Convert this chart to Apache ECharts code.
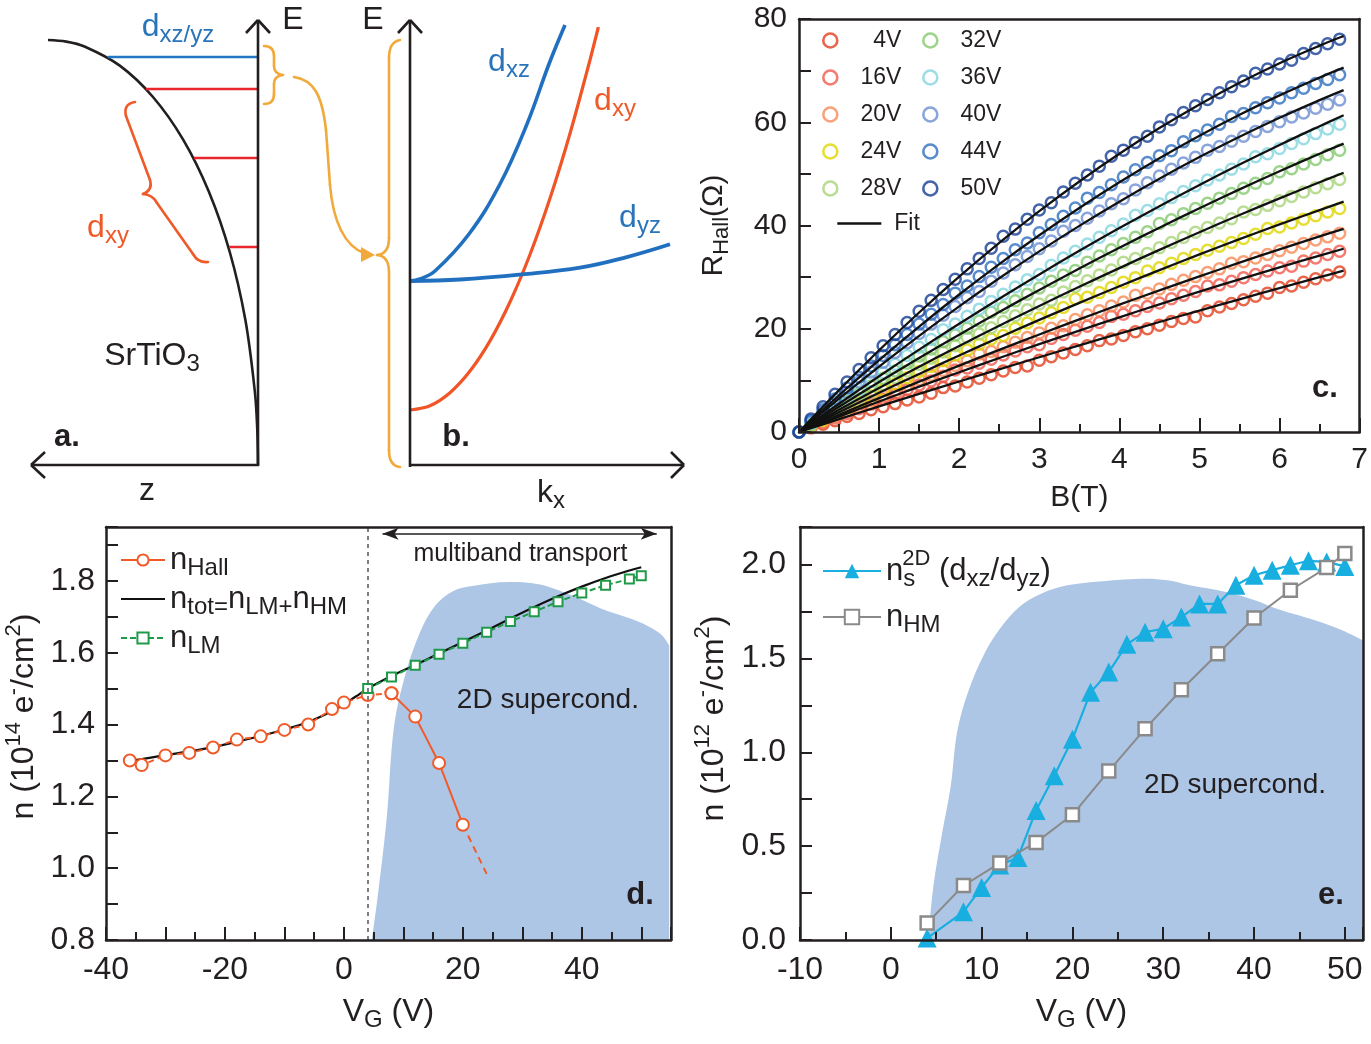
<!DOCTYPE html>
<html>
<head>
<meta charset="utf-8">
<script src="https://cdn.jsdelivr.net/npm/echarts@6/dist/echarts.min.js"></script>
<style>
html,body{margin:0;padding:0;background:#ffffff;}
#chart{width:1371px;height:1044px;}
</style>
</head>
<body>
<div id="chart"></div>
<script>
// ================= DATA =================
// (a) schematic: confining well E(z) and sub-band levels (arbitrary units)
const wellZ = [210, 191.7, 173.5, 138.2, 105, 75, 49.1, 28.1, 12.7, 3.2, 0.8, 0];
const wellE = [425, 423.4, 418.5, 399.4, 368, 325.6, 273.2, 212.5, 145.4, 73.8, 37, 0];
const levelE = [408, 376, 307, 218];
const levelZ = [150, 112, 64, 29];
// (b) schematic band dispersions E(kx) (arbitrary units)
const dxzK = [0, 10, 25, 59, 90, 117, 139, 155];
const dxzE = [184, 186, 194, 231, 281, 341, 401, 440];
const dyzK = [0, 50, 112, 170, 215, 260];
const dyzE = [184, 185.5, 190.6, 197.3, 207.4, 220.7];
const dxyK = [0, 20, 40, 60, 80, 100, 120, 140, 160, 180, 188.4];
const dxyE = [55, 59.3, 72.3, 93.9, 124.1, 163, 210.5, 266.7, 331.5, 405, 438];

// (c) Hall resistance vs field
const cVolt = ['4V','16V','20V','24V','28V','32V','36V','40V','44V','50V'];
const cB = [0,0.15,0.3,0.45,0.6,0.75,0.9,1.05,1.2,1.35,1.5,1.65,1.8,1.95,2.1,2.25,2.4,2.55,2.7,2.85,3,3.15,3.3,3.45,3.6,3.75,3.9,4.05,4.2,4.35,4.5,4.65,4.8,4.95,5.1,5.25,5.4,5.55,5.7,5.85,6,6.15,6.3,6.45,6.6,6.75];
const cR4  = [0,0.8,1.5,2.2,3.0,3.6,4.3,4.9,5.5,6.2,6.8,7.5,8.6,8.9,9.7,10.4,11.1,11.8,12.5,12.8,13.9,14.6,15.3,16.0,16.7,17.7,18.0,18.7,19.4,20.0,20.7,21.4,22.0,22.3,23.5,24.2,24.9,25.6,26.3,26.9,28.0,28.3,29.0,29.7,30.4,31.0];
const cR16 = [0,0.9,1.8,2.7,3.6,4.5,5.4,6.4,7.3,8.2,9.1,9.9,10.8,12.0,12.4,13.3,14.1,14.9,15.7,16.5,16.9,18.1,18.9,19.7,20.5,21.2,22.4,22.8,23.5,24.3,25.0,25.8,26.5,27.2,28.3,28.5,29.2,29.9,30.5,31.2,31.8,32.1,33.1,33.7,34.4,35.0];
const cR20 = [0,1.0,2.0,3.0,4.0,5.0,6.0,7.0,8.1,9.1,10.1,11.0,11.9,12.9,13.8,15.1,15.6,16.5,17.4,18.3,19.2,20.1,20.6,21.8,22.7,23.5,24.4,25.2,26.5,26.9,27.7,28.6,29.4,30.1,30.9,31.6,32.7,33.0,33.7,34.4,35.1,35.8,36.5,37.2,37.8,38.5];
const cR24 = [0,1.2,2.3,3.5,4.6,5.8,7.0,8.2,9.3,10.5,11.7,12.7,13.8,14.9,15.9,17.0,18.0,18.7,20.1,21.1,22.1,23.1,24.1,25.8,26.1,27.0,28.0,29.0,29.9,31.2,31.8,32.7,33.6,34.4,35.2,36.0,36.7,37.5,38.3,39.4,39.7,40.5,41.2,41.9,42.6,43.3];
const cR28 = [0,1.3,2.6,3.9,5.2,6.5,7.8,9.2,10.5,11.8,13.1,14.3,15.5,16.7,18.3,19.0,20.2,21.4,22.5,23.7,24.8,25.5,27.1,28.2,29.3,30.4,31.4,32.9,33.6,34.6,35.7,36.7,37.7,38.7,39.6,40.5,41.3,42.6,43.1,43.9,44.8,45.6,46.5,47.3,48.1,48.9];
const cR32 = [0,1.5,3.0,4.4,5.9,7.4,8.9,10.4,11.8,13.3,14.7,16.1,17.5,18.8,20.1,21.5,23.2,24.1,25.4,26.7,27.9,29.2,30.4,31.3,32.9,34.1,35.3,36.5,37.7,38.8,40.4,41.1,42.3,43.3,44.3,45.3,46.2,47.2,48.2,49.1,50.4,51.0,51.9,52.8,53.7,54.6];
const cR36 = [0,1.7,3.3,4.9,6.5,8.2,9.9,11.5,13.1,14.8,16.4,17.9,19.8,20.9,22.4,23.8,25.3,26.7,28.1,29.5,30.5,32.3,33.7,35.0,36.4,37.7,39.0,40.3,42.0,42.9,44.2,45.4,46.6,47.7,48.8,49.8,50.9,51.9,53.3,53.9,54.9,55.9,56.8,57.8,58.7,59.6];
const cR40 = [0,2.0,3.9,5.8,7.7,9.7,11.6,13.5,15.4,17.3,19.1,20.9,22.6,24.3,26.0,27.2,29.2,30.8,32.4,34.0,35.5,37.0,38.9,40.0,41.4,42.8,44.2,45.2,46.9,48.3,49.6,50.9,52.1,53.2,54.6,55.3,56.3,57.3,58.2,59.2,60.1,61.0,61.8,62.7,63.5,64.3];
const cR44 = [0,2.2,4.3,6.4,8.5,10.6,12.8,14.8,16.9,18.9,20.9,22.8,24.7,26.9,28.3,30.1,31.9,33.6,35.3,36.6,38.6,40.2,41.8,43.4,45.3,46.4,47.9,49.4,50.8,52.2,53.5,54.5,56.2,57.4,58.5,59.6,61.1,61.7,62.8,63.8,64.7,65.7,66.6,67.5,68.3,69.2];
const cR50 = [0,2.5,4.9,7.3,9.7,12.1,14.4,16.7,18.9,21.2,23.4,25.5,27.6,29.6,31.6,33.6,35.6,37.9,39.3,41.2,43.0,44.4,46.5,48.2,49.8,51.5,53.4,54.6,56.1,57.3,59.1,60.5,61.9,63.2,64.4,65.7,66.9,68.0,69.5,70.3,71.3,72.0,73.3,74.3,75.2,76.1];
const cFitB = [0,0.5,1,1.5,2,2.5,3,3.5,4,4.5,5,5.5,6,6.5,6.8];
const cFit4  = [0,2.49,4.95,7.38,9.78,12.14,14.48,16.79,19.06,21.31,23.53,25.71,27.86,29.99,31.25];
const cFit16 = [0,2.99,5.91,8.78,11.58,14.33,17.02,19.65,22.22,24.73,27.18,29.57,31.90,34.17,35.50];
const cFit20 = [0,3.32,6.57,9.75,12.86,15.91,18.89,21.81,24.66,27.44,30.15,32.80,35.38,37.89,39.36];
const cFit24 = [0,3.84,7.59,11.25,14.83,18.31,21.71,25.01,28.23,31.36,34.40,37.35,40.21,42.98,44.61];
const cFit28 = [0,4.32,8.53,12.65,16.67,20.59,24.41,28.13,31.75,35.28,38.70,42.03,45.25,48.38,50.21];
const cFit32 = [0,4.90,9.68,14.33,18.85,23.25,27.52,31.67,35.69,39.58,43.35,46.99,50.51,53.90,55.87];
const cFit36 = [0,5.47,10.79,15.95,20.96,25.83,30.53,35.09,39.50,43.75,47.85,51.80,55.60,59.24,61.36];
const cFit40 = [0,6.46,12.67,18.63,24.34,29.79,34.99,39.93,44.62,49.06,53.25,57.18,60.86,64.29,66.23];
const cFit44 = [0,7.12,13.93,20.43,26.63,32.53,38.11,43.39,48.37,53.04,57.40,61.46,65.21,68.65,70.57];
const cFit50 = [0,8.11,15.83,23.15,30.08,36.63,42.77,48.53,53.90,58.87,63.45,67.64,71.44,74.84,76.70];

// (d) carrier densities vs gate voltage (10^14 cm^-2)
const dHallV = [-36,-34,-30,-26,-22,-18,-14,-10,-6,-2,0,4,8,12,16,20];
const dHallN = [1.300,1.287,1.314,1.321,1.336,1.358,1.367,1.385,1.400,1.443,1.461,1.482,1.487,1.422,1.293,1.121];
const dHallExtV = [20, 24];
const dHallExtN = [1.121, 0.984];
const dTotV = [-36,-30,-26,-22,-18,-14,-10,-6,-2,0,2,4,8,12,16,20,24,28,32,36,40,44,48,50];
const dTotN = [1.298,1.315,1.325,1.337,1.352,1.368,1.386,1.407,1.437,1.456,1.478,1.500,1.535,1.566,1.598,1.630,1.662,1.695,1.727,1.757,1.784,1.808,1.829,1.838];
const dLmV = [4,8,12,16,20,24,28,32,36,40,44,48,50];
const dLmN = [1.500,1.532,1.565,1.596,1.626,1.657,1.687,1.714,1.742,1.766,1.788,1.805,1.814];
const dScV = [4.7,5.6,7.2,8.4,10.3,12.8,15.3,18.4,21.6,27.8,30.9,34,38.4,43.4,48.4,50.9,53.4,54.7];
const dScN = [0.8,0.91,1.14,1.39,1.537,1.657,1.73,1.772,1.786,1.797,1.795,1.786,1.759,1.722,1.694,1.676,1.65,1.62];

// (e) superfluid / high-mobility densities (10^12 cm^-2)
const eNsV = [4,8,10,12,14,16,18,20,22,24,26,28,30,32,34,36,38,40,42,44,46,48,50];
const eNsN = [0.01,0.15,0.28,0.40,0.44,0.69,0.875,1.07,1.32,1.427,1.575,1.64,1.658,1.72,1.79,1.79,1.89,1.943,1.97,1.996,2.02,2.014,1.99];
const eHmV = [4,8,12,16,20,24,28,32,36,40,44,48,50];
const eHmN = [0.09,0.29,0.41,0.52,0.667,0.90,1.125,1.333,1.525,1.715,1.863,1.984,2.059];
const eScV = [4.1,4.7,5.6,6.6,7.3,8.5,10.4,12.3,14.3,16.2,18.6,21,25.7,28.1,30.5,32.9,35.3,37.7,40.1,42.5,44.9,47.3,49.7,52];
const eScN = [0,0.29,0.555,0.82,1.107,1.32,1.534,1.676,1.78,1.836,1.88,1.9,1.92,1.925,1.916,1.89,1.87,1.845,1.81,1.765,1.73,1.694,1.65,1.596];

// ================= STYLE =================
const FONT = "'Liberation Sans', Arial, Helvetica, sans-serif";
const INK = '#231f20';
const cRs = [cR4,cR16,cR20,cR24,cR28,cR32,cR36,cR40,cR44,cR50];
const cFits = [cFit4,cFit16,cFit20,cFit24,cFit28,cFit32,cFit36,cFit40,cFit44,cFit50];
const cColors = ['#e2401e','#f05a4d','#f78b57','#e0d600','#a9d579','#84c96e','#85d6e0','#6c8fd2','#2f6fc0','#163f95'];
const OR = '#f15a29', GR = '#1f9a48', CY = '#19aee0', GY = '#8a8a8a', SC = '#adc6e6';
const zip = (xs, ys) => xs.map((x, i) => [x, ys[i]]);

const tickStyle = {color: INK, width: 2};
const lineAx = {show: true, onZero: false, lineStyle: {color: INK, width: 2.5}};
const richName = (base, sub) => ({
  n: {fontSize: base, fontFamily: FONT, color: INK, lineHeight: base + 4},
  s: {fontSize: sub, fontFamily: FONT, color: INK, lineHeight: 20, padding: [16, 0, 0, 0]},
  p: {fontSize: sub - 2, fontFamily: FONT, color: INK, lineHeight: 20, padding: [0, 0, 22, 0]}
});
function borderAxis(grid, pos, min, max) {
  return {gridIndex: grid, type: 'value', position: pos, min: min, max: max, z: 10,
    axisLine: lineAx, axisTick: {show: false}, axisLabel: {show: false},
    splitLine: {show: false}, minorTick: {show: false}};
}
const isMult = (v, m) => Math.abs(v / m - Math.round(v / m)) < 1e-6;

// ================= AXES =================
const xAxis = [
  {gridIndex: 0, type: 'value', min: 0, max: 228, inverse: true, show: false},
  {gridIndex: 1, type: 'value', min: 0, max: 275, show: false},
  {gridIndex: 2, type: 'value', min: 0, max: 7, interval: 1, z: 10,
    axisLine: lineAx, axisTick: {inside: true, length: 14, lineStyle: tickStyle},
    minorTick: {show: true, splitNumber: 2, length: 8, lineStyle: tickStyle},
    splitLine: {show: false},
    axisLabel: {color: INK, fontSize: 30, fontFamily: FONT, margin: 13},
    name: 'B(T)', nameLocation: 'middle', nameGap: 51,
    nameTextStyle: {fontSize: 30, fontFamily: FONT, color: INK}},
  {gridIndex: 3, type: 'value', min: -40, max: 55, interval: 10, z: 10,
    axisLine: lineAx, axisTick: {inside: true, length: 13, lineStyle: tickStyle},
    minorTick: {show: true, splitNumber: 2, length: 8, lineStyle: tickStyle},
    splitLine: {show: false},
    axisLabel: {color: INK, fontSize: 32, fontFamily: FONT, margin: 14, formatter: v => isMult(v, 20) ? String(v) : ''},
    name: '{n|V}{s|G}{n| (V)}', nameLocation: 'middle', nameGap: 54,
    nameTextStyle: {rich: richName(32, 24)}},
  {gridIndex: 4, type: 'value', min: -10, max: 52, interval: 10, z: 10,
    axisLine: lineAx, axisTick: {inside: true, length: 13, lineStyle: tickStyle},
    minorTick: {show: true, splitNumber: 2, length: 8, lineStyle: tickStyle},
    splitLine: {show: false},
    axisLabel: {color: INK, fontSize: 32, fontFamily: FONT, margin: 14, formatter: v => isMult(v, 10) ? String(v) : ''},
    name: '{n|V}{s|G}{n| (V)}', nameLocation: 'middle', nameGap: 54,
    nameTextStyle: {rich: richName(32, 24)}},
  borderAxis(2, 'top', 0, 7),
  borderAxis(3, 'top', -40, 55),
  borderAxis(4, 'top', -10, 52)
];
const yAxis = [
  {gridIndex: 0, type: 'value', min: 0, max: 447, show: false},
  {gridIndex: 1, type: 'value', min: 0, max: 447, show: false},
  {gridIndex: 2, type: 'value', min: 0, max: 80, interval: 20, z: 10,
    axisLine: lineAx, axisTick: {inside: true, length: 12, lineStyle: tickStyle},
    minorTick: {show: true, splitNumber: 2, length: 12, lineStyle: tickStyle},
    splitLine: {show: false},
    axisLabel: {color: INK, fontSize: 30, fontFamily: FONT, margin: 12},
    name: '{n|R}{s|Hall}{n|(Ω)}', nameLocation: 'middle', nameGap: 68, nameRotate: 90,
    nameTextStyle: {rich: richName(30, 22)}},
  {gridIndex: 3, type: 'value', min: 0.8, max: 1.95, interval: 0.2, z: 10,
    axisLine: lineAx, axisTick: {inside: true, length: 12, lineStyle: tickStyle},
    minorTick: {show: true, splitNumber: 2, length: 12, lineStyle: tickStyle},
    splitLine: {show: false},
    axisLabel: {color: INK, fontSize: 32, fontFamily: FONT, margin: 11, formatter: v => isMult(v, 0.2) ? v.toFixed(1) : ''},
    name: '{n|n (10}{p|14}{n| e}{p|-}{n|/cm}{p|2}{n|)}', nameLocation: 'middle', nameGap: 62, nameRotate: 90,
    nameTextStyle: {rich: richName(32, 24), padding: [0, 0, 0, 34]}},
  {gridIndex: 4, type: 'value', min: 0, max: 2.2, interval: 0.5, z: 10,
    axisLine: lineAx, axisTick: {inside: true, length: 12, lineStyle: tickStyle},
    minorTick: {show: true, splitNumber: 2, length: 12, lineStyle: tickStyle},
    splitLine: {show: false},
    axisLabel: {color: INK, fontSize: 32, fontFamily: FONT, margin: 14, formatter: v => isMult(v, 0.5) ? v.toFixed(1) : ''},
    name: '{n|n (10}{p|12}{n| e}{p|-}{n|/cm}{p|2}{n|)}', nameLocation: 'middle', nameGap: 68, nameRotate: 90,
    nameTextStyle: {rich: richName(32, 24), padding: [0, 0, 0, 30]}},
  borderAxis(2, 'right', 0, 80),
  borderAxis(3, 'right', 0.8, 1.95),
  borderAxis(4, 'right', 0, 2.2)
];

// ================= SERIES =================
const series = [];
// (a)
series.push({type: 'line', xAxisIndex: 0, yAxisIndex: 0, data: zip(wellZ, wellE), smooth: 0.35,
  symbol: 'none', lineStyle: {color: INK, width: 2.6}, silent: true});
const levelColors = ['#2277c4', '#e8262c', '#e8262c', '#e8262c'];
levelE.forEach((e, i) => series.push({type: 'line', xAxisIndex: 0, yAxisIndex: 0,
  data: [[0, e], [levelZ[i], e]], symbol: 'none', lineStyle: {color: levelColors[i], width: 2.6}, silent: true}));
// (b)
series.push({type: 'line', xAxisIndex: 1, yAxisIndex: 1, data: zip(dxyK, dxyE), smooth: 0.3,
  symbol: 'none', lineStyle: {color: '#ef5527', width: 3.2}, silent: true});
series.push({type: 'line', xAxisIndex: 1, yAxisIndex: 1, data: zip(dyzK, dyzE), smooth: 0.4,
  symbol: 'none', lineStyle: {color: '#2070bf', width: 3.8}, silent: true});
series.push({type: 'line', xAxisIndex: 1, yAxisIndex: 1, data: zip(dxzK, dxzE), smooth: 0.4,
  symbol: 'none', lineStyle: {color: '#2070bf', width: 3.6}, silent: true});
// (c)
cRs.forEach((r, i) => series.push({type: 'scatter', name: cVolt[i], xAxisIndex: 2, yAxisIndex: 2,
  data: zip(cB, r), symbol: 'circle', symbolSize: 11,
  itemStyle: {color: 'rgba(255,255,255,0)', borderColor: cColors[i], borderWidth: 2.5}, z: 3}));
cFits.forEach(f => series.push({type: 'line', name: 'Fit', xAxisIndex: 2, yAxisIndex: 2,
  data: zip(cFitB, f), smooth: 0.4, symbol: 'none', color: '#111111',
  lineStyle: {color: '#111111', width: 2.3}, z: 5}));
// (d)
series.push({type: 'line', xAxisIndex: 3, yAxisIndex: 3, data: zip(dScV, dScN), smooth: 0.35,
  symbol: 'none', lineStyle: {width: 0}, areaStyle: {color: SC, opacity: 1, origin: 'start'}, z: 1, silent: true,
  markLine: {silent: true, symbol: 'none', label: {show: false}, animation: false,
    lineStyle: {type: [4, 4], color: '#555555', width: 1.5}, data: [{xAxis: 4}]},
  markPoint: {silent: true, symbol: 'circle', symbolSize: 1, itemStyle: {color: 'rgba(0,0,0,0)'},
    label: {show: true, position: 'inside', color: INK, fontSize: 28, fontFamily: FONT},
    data: [{coord: [34.3, 1.467], label: {formatter: '2D supercond.'}},
           {coord: [29.7, 1.875], label: {formatter: 'multiband transport', fontSize: 25}}]}});
series.push({type: 'line', name: 'ntot', xAxisIndex: 3, yAxisIndex: 3, data: zip(dTotV, dTotN), smooth: 0.4,
  symbol: 'none', color: '#111111', lineStyle: {color: '#111111', width: 2.2}, z: 2});
series.push({type: 'line', name: 'nHallLow', xAxisIndex: 3, yAxisIndex: 3,
  data: zip(dHallV.slice(0, 13), dHallN.slice(0, 13)), symbol: 'circle', symbolSize: 12,
  itemStyle: {color: '#ffffff', borderColor: OR, borderWidth: 2}, lineStyle: {color: OR, width: 2, type: [6, 4]}, z: 3});
series.push({type: 'line', name: 'nHall', xAxisIndex: 3, yAxisIndex: 3,
  data: zip(dHallV.slice(12), dHallN.slice(12)), symbol: 'circle', symbolSize: 12, color: OR,
  itemStyle: {color: '#ffffff', borderColor: OR, borderWidth: 2}, lineStyle: {color: OR, width: 2}, z: 3});
series.push({type: 'line', name: 'nHallExt', xAxisIndex: 3, yAxisIndex: 3, data: zip(dHallExtV, dHallExtN),
  symbol: 'none', lineStyle: {color: OR, width: 2, type: [7, 5]}, z: 3});
series.push({type: 'line', name: 'nLM', xAxisIndex: 3, yAxisIndex: 3, data: zip(dLmV, dLmN),
  symbol: 'rect', symbolSize: 9, color: GR,
  itemStyle: {color: '#ffffff', borderColor: GR, borderWidth: 2}, lineStyle: {color: GR, width: 2, type: [6, 3]}, z: 4,
  markLine: {silent: true, symbol: ['arrow', 'arrow'], symbolSize: [9, 16], label: {show: false}, animation: false,
    lineStyle: {type: 'solid', color: INK, width: 1.5},
    data: [[{coord: [6.5, 1.931]}, {coord: [52.6, 1.931]}]]}});
// (e)
series.push({type: 'line', xAxisIndex: 4, yAxisIndex: 4, data: zip(eScV, eScN), smooth: 0.35,
  symbol: 'none', lineStyle: {width: 0}, areaStyle: {color: SC, opacity: 1, origin: 'start'}, z: 1, silent: true,
  markPoint: {silent: true, symbol: 'circle', symbolSize: 1, itemStyle: {color: 'rgba(0,0,0,0)'},
    label: {show: true, position: 'inside', color: INK, fontSize: 28, fontFamily: FONT},
    data: [{coord: [37.9, 0.822], label: {formatter: '2D supercond.'}}]}});
series.push({type: 'line', name: 'ns', xAxisIndex: 4, yAxisIndex: 4, data: zip(eNsV, eNsN),
  symbol: 'triangle', symbolSize: 19, color: CY, itemStyle: {color: CY}, lineStyle: {color: CY, width: 2.2}, z: 3});
series.push({type: 'line', name: 'nHM', xAxisIndex: 4, yAxisIndex: 4, data: zip(eHmV, eHmN),
  symbol: 'rect', symbolSize: 13, color: GY,
  itemStyle: {color: '#ffffff', borderColor: GY, borderWidth: 2.5}, lineStyle: {color: GY, width: 2}, z: 4});

// ================= LEGENDS =================
const legRich = {
  n: {fontSize: 31, fontFamily: FONT, color: INK, lineHeight: 36},
  s: {fontSize: 24, fontFamily: FONT, color: INK, lineHeight: 20, padding: [16, 0, 0, 0]},
  sb: {fontSize: 24, fontFamily: FONT, color: INK, lineHeight: 20, padding: [16, -13, 0, 0]},
  sp: {fontSize: 22, fontFamily: FONT, color: INK, lineHeight: 20, padding: [0, 0, 24, 0]},
  v: {fontSize: 23, fontFamily: FONT, color: INK, lineHeight: 26, width: 59, align: 'right'},
  f: {fontSize: 23, fontFamily: FONT, color: INK, lineHeight: 26, padding: [0, 0, 0, 8]}
};
const legendLabels = {
  nHall: '{n|n}{s|Hall}',
  ntot: '{n|n}{s|tot=}{n|n}{s|LM+}{n|n}{s|HM}',
  nLM: '{n|n}{s|LM}',
  ns: '{n|n}{sb|s}{sp|2D}{n| (d}{s|xz}{n|/d}{s|yz}{n|)}',
  nHM: '{n|n}{s|HM}'
};
const legBase = {orient: 'vertical', selectedMode: false, padding: 0, textStyle: {rich: legRich, color: INK, fontFamily: FONT}};
const legend = [
  Object.assign({}, legBase, {data: cVolt.slice(0, 5), left: 822, top: 29, itemWidth: 14, itemHeight: 14, itemGap: 14,
    itemStyle: {borderWidth: 2.6}, formatter: '{v|{name}}'}),
  Object.assign({}, legBase, {data: cVolt.slice(5), left: 922, top: 29, itemWidth: 14, itemHeight: 14, itemGap: 14,
    itemStyle: {borderWidth: 2.6}, formatter: '{v|{name}}'}),
  Object.assign({}, legBase, {data: [{name: 'Fit', itemStyle: {opacity: 0}}], left: 836, top: 212, itemWidth: 44, itemHeight: 14,
    lineStyle: {width: 2.6}, formatter: '{f|Fit}'}),
  Object.assign({}, legBase, {data: ['nHall', {name: 'ntot', itemStyle: {opacity: 0}}, 'nLM'], left: 120, top: 540,
    itemWidth: 44, itemHeight: 14, itemGap: -1, formatter: name => legendLabels[name]}),
  Object.assign({}, legBase, {data: ['ns', 'nHM'], left: 822, top: 548, itemWidth: 58, itemHeight: 18, itemGap: 3,
    formatter: name => legendLabels[name]})
];

// ================= ANNOTATIONS (schematic a/b, panel tags) =================
function pathEls(d, style) {
  const t = d.trim().split(/[\s,]+/);
  let i = 0, cx = 0, cy = 0;
  const els = [];
  while (i < t.length) {
    const c = t[i++];
    if (c === 'M') { cx = +t[i++]; cy = +t[i++]; }
    else if (c === 'L') { const x = +t[i++], y = +t[i++];
      els.push({type: 'line', z: 100, shape: {x1: cx, y1: cy, x2: x, y2: y}, style: style}); cx = x; cy = y; }
    else if (c === 'Q') { const qx = +t[i++], qy = +t[i++], x = +t[i++], y = +t[i++];
      els.push({type: 'bezierCurve', z: 100, shape: {x1: cx, y1: cy, cpx1: qx, cpy1: qy, x2: x, y2: y}, style: style}); cx = x; cy = y; }
    else if (c === 'C') { const ax = +t[i++], ay = +t[i++], bx = +t[i++], by = +t[i++], x = +t[i++], y = +t[i++];
      els.push({type: 'bezierCurve', z: 100, shape: {x1: cx, y1: cy, cpx1: ax, cpy1: ay, cpx2: bx, cpy2: by, x2: x, y2: y}, style: style}); cx = x; cy = y; }
  }
  return els;
}
function txt(x, y, text, extra) {
  return {type: 'text', x: x, y: y, z: 100, style: Object.assign({text: text, fill: INK, fontSize: 32, fontFamily: FONT,
    align: 'center', verticalAlign: 'middle', textAlign: 'center', textVerticalAlign: 'middle'}, extra || {})};
}
const axStyle = {stroke: INK, lineWidth: 2.6, fill: 'none'};
const orStyle = {stroke: '#f2a93b', lineWidth: 2.6, fill: 'none', lineCap: 'round'};
const rdStyle = {stroke: '#ef5a28', lineWidth: 2.6, fill: 'none', lineCap: 'round'};
const BLUE_T = '#2a74ba', ORANGE_T = '#ef5a28';
const subRich = (col) => ({
  d: {fontSize: 32, fontFamily: FONT, fill: col, lineHeight: 36},
  s: {fontSize: 24, fontFamily: FONT, fill: col, lineHeight: 20, padding: [16, 0, 0, 0]}
});
let graphic = [];
graphic = graphic.concat(pathEls('M 258 466 L 258 20', axStyle));
graphic = graphic.concat(pathEls('M 246 33 L 258 20 L 270 33', axStyle));
graphic = graphic.concat(pathEls('M 259 465 L 31 465', axStyle));
graphic = graphic.concat(pathEls('M 45 452 L 31 465 L 45 478', axStyle));
graphic = graphic.concat(pathEls('M 410 467 L 410 20', axStyle));
graphic = graphic.concat(pathEls('M 398 33 L 410 20 L 422 33', axStyle));
graphic = graphic.concat(pathEls('M 409 465 L 684 465', axStyle));
graphic = graphic.concat(pathEls('M 671 452 L 684 465 L 671 478', axStyle));
// braces and curly arrow
graphic = graphic.concat(pathEls('M 264 46 Q 274 46 274 56 L 274 66 Q 274 74 283 75 Q 274 76 274 84 L 274 94 Q 274 104 264 104', orStyle));
graphic = graphic.concat(pathEls('M 294 77 C 314 80 322 95 326 130 L 330 185 C 333 222 345 246 364 253', orStyle));
graphic.push({type: 'polygon', z: 100, shape: {points: [[361, 247], [375, 255], [361, 262]]}, style: {fill: '#f2a93b'}});
graphic = graphic.concat(pathEls('M 400 40 Q 389 42 389 58 L 389 238 Q 389 254 377 255 Q 389 256 389 272 L 389 450 Q 389 466 400 467', orStyle));
graphic = graphic.concat(pathEls('M 135 102 Q 123 104 126 116 L 150 180 Q 153 190 143 194 Q 153 195 157 203 L 193 254 Q 198 263 208 262', rdStyle));
// texts
graphic.push(txt(178, 27, '{d|d}{s|xz/yz}', {rich: subRich(BLUE_T), fill: BLUE_T}));
graphic.push(txt(293, 20, 'E'));
graphic.push(txt(373, 20, 'E'));
graphic.push(txt(108, 228, '{d|d}{s|xy}', {rich: subRich(ORANGE_T), fill: ORANGE_T}));
graphic.push(txt(152, 356, '{d|SrTiO}{s|3}', {rich: subRich(INK)}));
graphic.push(txt(67, 437, 'a.', {fontWeight: 'bold', fontSize: 31}));
graphic.push(txt(147, 491, 'z'));
graphic.push(txt(456, 437, 'b.', {fontWeight: 'bold', fontSize: 31}));
graphic.push(txt(551, 493, '{d|k}{s|x}', {rich: subRich(INK)}));
graphic.push(txt(509, 62, '{d|d}{s|xz}', {rich: subRich(BLUE_T), fill: BLUE_T}));
graphic.push(txt(615, 101, '{d|d}{s|xy}', {rich: subRich(ORANGE_T), fill: ORANGE_T}));
graphic.push(txt(640, 218, '{d|d}{s|yz}', {rich: subRich(BLUE_T), fill: BLUE_T}));
graphic.push(txt(1325, 388, 'c.', {fontWeight: 'bold', fontSize: 31}));
graphic.push(txt(640, 895, 'd.', {fontWeight: 'bold', fontSize: 31}));
graphic.push(txt(1331, 895, 'e.', {fontWeight: 'bold', fontSize: 31}));

// ================= CHART =================
const chart = echarts.init(document.getElementById('chart'));
chart.setOption({
  backgroundColor: '#ffffff',
  animation: false,
  textStyle: {fontFamily: FONT},
  grid: [
    {left: 30, top: 18, width: 228, height: 447},
    {left: 410, top: 18, width: 275, height: 447},
    {left: 799, top: 19, width: 562, height: 413},
    {left: 106, top: 527, width: 565, height: 413},
    {left: 800, top: 527, width: 563, height: 413}
  ],
  xAxis: xAxis,
  yAxis: yAxis,
  legend: legend,
  series: series,
  graphic: {elements: graphic}
});
</script>
</body>
</html>
